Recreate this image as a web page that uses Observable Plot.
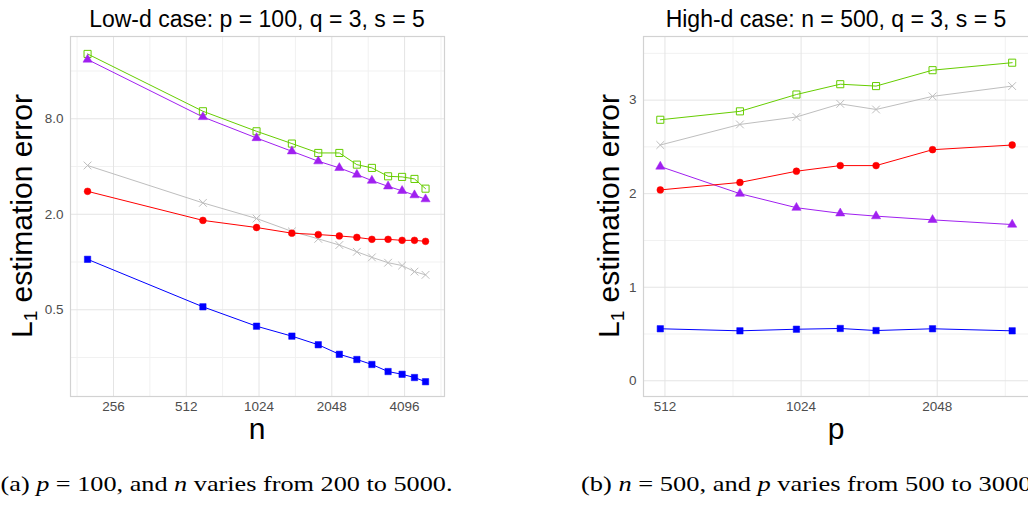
<!DOCTYPE html>
<html>
<head>
<meta charset="utf-8">
<script src="https://cdn.jsdelivr.net/npm/d3@7"></script>
<script src="https://cdn.jsdelivr.net/npm/@observablehq/plot@0.6"></script>
<style>
  html, body { margin: 0; padding: 0; background: #fff; overflow: hidden; }
  #wrap { position: relative; width: 1028px; height: 508px; overflow: hidden; background: #fff; }
  .panel { position: absolute; top: 0; width: 460px; height: 420px; }
  .panel svg { max-width: none !important; width: 460px; height: 420px; }
  #overlay { position: absolute; left: 0; top: 0; pointer-events: none; }
</style>
</head>
<body>
<div id="wrap">
  <div id="left" class="panel" style="left:0px"></div>
  <div id="right" class="panel" style="left:580px"></div>
</div>
<script>
// ---------- Data: Low-d case (p = 100, q = 3, s = 5), x = n ----------
const nValues = [200, 600, 1000, 1400, 1800, 2200, 2600, 3000, 3500, 4000, 4500, 5000];
const lowGreen  = [20.5, 8.92, 6.67, 5.58, 4.87, 4.87, 4.11, 3.92, 3.47, 3.44, 3.34, 2.90];
const lowPurple = [18.9, 8.21, 6.05, 4.99, 4.32, 3.92, 3.56, 3.26, 3.00, 2.81, 2.64, 2.49];
const lowGray   = [4.06, 2.36, 1.88, 1.56, 1.40, 1.28, 1.16, 1.07, 0.99, 0.95, 0.87, 0.83];
const lowRed    = [2.79, 1.83, 1.65, 1.52, 1.49, 1.46, 1.43, 1.39, 1.39, 1.37, 1.37, 1.35];
const lowBlue   = [1.04, 0.522, 0.394, 0.341, 0.301, 0.262, 0.243, 0.226, 0.204, 0.196, 0.187, 0.176];

// ---------- Data: High-d case (n = 500, q = 3, s = 5), x = p ----------
const pValues = [500, 750, 1000, 1250, 1500, 2000, 3000];
const highGreen  = [2.79, 2.88, 3.06, 3.17, 3.15, 3.32, 3.40];
const highGray   = [2.52, 2.74, 2.82, 2.96, 2.90, 3.04, 3.15];
const highRed    = [2.04, 2.12, 2.24, 2.30, 2.30, 2.47, 2.52];
const highPurple = [2.29, 2.00, 1.85, 1.79, 1.76, 1.72, 1.67];
const highBlue   = [0.556, 0.534, 0.551, 0.559, 0.537, 0.556, 0.534];

// ---------- Tick labels ----------
const lowXTicks = [256, 512, 1024, 2048, 4096];
const lowXMinor = [181, 362, 724, 1448, 2896, 5793];
const lowYTicks = [0.5, 2, 8];
const lowYMinor = [0.25, 1, 4, 16];
const highXTicks = [512, 1024, 2048];
const highXMinor = [724, 1448, 2896];
const highYTicks = [0, 1, 2, 3];
const highYMinor = [0.5, 1.5, 2.5, 3.5];

const titles = ["Low-d case: p = 100, q = 3, s = 5", "High-d case: n = 500, q = 3, s = 5"];
const xLabels = ["n", "p"];

// style per series
const styles = {
  gray:   {color: "#bebebe", symbol: "times",    r: 3.6, filled: false},
  green:  {color: "#66cd00", symbol: "square",   r: 4.0, filled: false},
  purple: {color: "#a020f0", symbol: "triangle", r: 3.4, filled: true},
  red:    {color: "#ff0000", symbol: "circle",   r: 3.4, filled: true},
  blue:   {color: "#0000ff", symbol: "square",   r: 3.6, filled: true}
};

function seriesMarks(xs, seriesMap) {
  const marks = [];
  for (const [key, ys] of Object.entries(seriesMap)) {
    const st = styles[key];
    const data = xs.map((x, i) => ({x, y: ys[i]}));
    marks.push(Plot.line(data, {x: "x", y: "y", stroke: st.color, strokeWidth: 1}));
    marks.push(Plot.dot(data, {
      x: "x", y: "y", symbol: st.symbol, r: st.r,
      fill: st.filled ? st.color : "none",
      stroke: st.color, strokeWidth: st.filled ? 0.5 : 1
    }));
  }
  return marks;
}

function panel(cfg) {
  return Plot.plot({
    width: cfg.width, height: 420,
    marginLeft: cfg.marginLeft, marginRight: cfg.marginRight,
    marginTop: 36, marginBottom: 24,
    style: {fontFamily: "'Liberation Sans', Arial, sans-serif", background: "transparent", overflow: "visible", maxWidth: "none"},
    x: {type: "log", base: 2, domain: cfg.xDomain},
    y: cfg.yScale,
    marks: [
      Plot.ruleX(cfg.xMinor, {stroke: "#f1f1f1", strokeWidth: 1}),
      Plot.ruleY(cfg.yMinor, {stroke: "#f1f1f1", strokeWidth: 1}),
      Plot.ruleX(cfg.xTicks, {stroke: "#e4e4e4", strokeWidth: 1}),
      Plot.ruleY(cfg.yTicks, {stroke: "#e4e4e4", strokeWidth: 1}),
      Plot.frame({stroke: "#d2d2d2", strokeWidth: 1.2}),
      Plot.axisX(cfg.xTicks, {tickSize: 0, tickPadding: 4.5, fontSize: 13.5, color: "#4d4d4d", tickFormat: d3.format("d"), label: null}),
      Plot.axisY(cfg.yTicks, {tickSize: 0, tickPadding: 7, fontSize: 13.5, color: "#4d4d4d", tickFormat: cfg.yFormat, label: null}),
      ...seriesMarks(cfg.xs, cfg.series)
    ]
  });
}

document.getElementById("left").appendChild(panel({
  width: 460, marginLeft: 70, marginRight: 16,
  xDomain: [170, 5990],
  yScale: {type: "log", base: 2, domain: [0.142, 26.4]},
  xTicks: lowXTicks, xMinor: lowXMinor, yTicks: lowYTicks, yMinor: lowYMinor,
  yFormat: d3.format(".1f"),
  xs: nValues,
  series: {gray: lowGray, green: lowGreen, purple: lowPurple, red: lowRed, blue: lowBlue}
}));

document.getElementById("right").appendChild(panel({
  width: 460, marginLeft: 63, marginRight: 10.5,
  xDomain: [459, 3285],
  yScale: {type: "linear", domain: [-0.168, 3.68]},
  xTicks: highXTicks, xMinor: highXMinor, yTicks: highYTicks, yMinor: highYMinor,
  yFormat: d3.format("d"),
  xs: pValues,
  series: {gray: highGray, green: highGreen, purple: highPurple, red: highRed, blue: highBlue}
}));

// ---------- Overlay text: titles, axis labels, captions ----------
const NS = "http://www.w3.org/2000/svg";
const ov = document.createElementNS(NS, "svg");
ov.setAttribute("id", "overlay");
ov.setAttribute("width", 1028);
ov.setAttribute("height", 508);
document.getElementById("wrap").appendChild(ov);

function txt(parent, x, y, str, attrs = {}) {
  const t = document.createElementNS(NS, "text");
  t.setAttribute("x", x); t.setAttribute("y", y);
  for (const [k, v] of Object.entries(attrs)) t.setAttribute(k, v);
  if (str != null) t.textContent = str;
  parent.appendChild(t);
  return t;
}
function tspan(parent, str, attrs = {}) {
  const s = document.createElementNS(NS, "tspan");
  for (const [k, v] of Object.entries(attrs)) s.setAttribute(k, v);
  s.textContent = str;
  parent.appendChild(s);
  return s;
}

const sans = "'Liberation Sans', Arial, sans-serif";
const panelCenters = [257, 836];
titles.forEach((t, i) => txt(ov, panelCenters[i], 26.7, t, {"font-family": sans, "font-size": 23, "text-anchor": "middle", fill: "#000"}));
xLabels.forEach((t, i) => txt(ov, panelCenters[i], 439, t, {"font-family": sans, "font-size": 30, "text-anchor": "middle", fill: "#000"}));

[32.3, 618.5].forEach(bx => {
  const t = txt(ov, 0, 0, null, {"font-family": sans, "font-size": 30, "text-anchor": "middle", fill: "#000",
    transform: `translate(${bx},216) rotate(-90)`});
  tspan(t, "L");
  tspan(t, "1", {"font-size": 19, dy: 5});
  tspan(t, " estimation error", {dy: -5});
});

// captions (serif, LaTeX-like)
const serif = "'Liberation Serif', 'Times New Roman', serif";
function caption(x, len, label, v1, val1, v2, from, to) {
  const t = txt(ov, x, 490.7, null, {"font-family": serif, "font-size": 22, fill: "#000",
    textLength: len, lengthAdjust: "spacingAndGlyphs"});
  tspan(t, `(${label}) `);
  tspan(t, v1, {"font-style": "italic"});
  tspan(t, ` = ${val1}, and `);
  tspan(t, v2, {"font-style": "italic"});
  tspan(t, ` varies from ${from} to ${to}.`);
}
caption(0.5, 452, "a", "p", "100", "n", "200", "5000");
caption(581, 457, "b", "n", "500", "p", "500", "3000");
</script>
</body>
</html>
